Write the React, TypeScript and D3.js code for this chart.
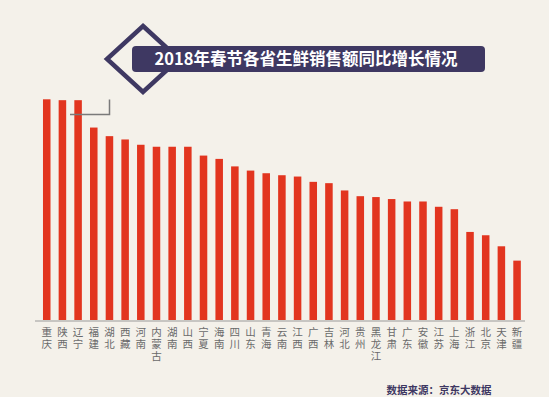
import * as d3 from 'd3';
import { useEffect, useRef } from 'react';

const provinces = [
    '重庆', '陕西', '辽宁', '福建', '湖北', '西藏', '河南', '内蒙古', '湖南', '山西', '宁夏',
    '海南', '四川', '山东', '青海', '云南', '江西', '广西', '吉林', '河北', '贵州', '黑龙江',
    '甘肃', '广东', '安徽', '江苏', '上海', '浙江', '北京', '天津', '新疆'
];

// growth values (no axis in the source)
const growth = [
    100, 99.6, 99.6, 87.2, 83.3, 81.8, 79.4, 78.5, 78.5, 78.5, 74.5,
    73.0, 69.6, 67.7, 66.5, 65.6, 65.0, 62.6, 62.0, 58.7, 56.1, 55.7,
    54.8, 53.7, 53.7, 51.3, 50.2, 39.9, 38.4, 33.4, 26.9
];

const titleText = '2018年春节各省生鲜销售额同比增长情况';
const sourceText = '数据来源：京东大数据';

export default function App() {

    const ref = useRef<HTMLDivElement>(null);

    useEffect(() => {
        document.body.style.margin = '0';

        const width = 549;
        const height = 397;
        const baseY = 320;
        const navy = '#3e3862';
        const barColor = '#e2351f';
        const font = '"Noto Sans CJK SC", "Noto Sans", sans-serif';

        const svg = d3
            .create('svg')
            .attr('width', width)
            .attr('height', height)
            .style('display', 'block');

        svg.append('rect')
            .attr('width', width)
            .attr('height', height)
            .attr('fill', '#f4f1ea');

        const xScale = d3
            .scaleBand()
            .domain(provinces)
            .range([38.9, 524.9])
            .paddingInner(0.52)
            .paddingOuter(0.26);

        const yScale = d3
            .scaleLinear()
            .domain([0, 100])
            .range([baseY, 99.3]);

        // baseline
        svg.append('line')
            .attr('x1', 35)
            .attr('x2', 525)
            .attr('y1', baseY + 1)
            .attr('y2', baseY + 1)
            .attr('stroke', '#9a9a9a')
            .attr('stroke-width', 1);

        svg.append('g')
            .selectAll('rect')
            .data(provinces)
            .join('rect')
            .attr('x', d => xScale(d)!)
            .attr('y', (d, i) => yScale(growth[i]))
            .attr('width', xScale.bandwidth())
            .attr('height', (d, i) => baseY - yScale(growth[i]))
            .attr('fill', barColor);

        // vertical labels (top-to-bottom writing mode)
        svg.append('g')
            .selectAll('text')
            .data(provinces)
            .join('text')
            .attr('font-family', font)
            .attr('font-size', 10.5)
            .attr('fill', '#6a6a6a')
            .attr('text-anchor', 'start')
            .style('writing-mode', 'vertical-rl')
            .style('text-orientation', 'upright')
            .attr('letter-spacing', 1.5)
            .attr('x', d => xScale(d)! + xScale.bandwidth() / 2)
            .attr('y', 327)
            .text(d => d);

        // little bracket next to the top bars
        svg.append('path')
            .attr('d', 'M70,114.5 H109.5 V99.5')
            .attr('fill', 'none')
            .attr('stroke', '#7a7a7a')
            .attr('stroke-width', 1.5);

        // title: diamond + box
        svg.append('path')
            .attr('d', 'M143,26 L179,59 L143,92 L107,59 Z')
            .attr('fill', 'none')
            .attr('stroke', navy)
            .attr('stroke-width', 4.5);

        svg.append('rect')
            .attr('x', 132)
            .attr('y', 46)
            .attr('width', 353)
            .attr('height', 26)
            .attr('rx', 4)
            .attr('fill', navy);

        svg.append('text')
            .attr('x', 306)
            .attr('y', 65)
            .attr('text-anchor', 'middle')
            .attr('font-family', font)
            .attr('font-size', 16.5)
            .attr('font-weight', 700)
            .attr('fill', '#ffffff')
            .text(titleText);

        svg.append('text')
            .attr('x', 439)
            .attr('y', 394)
            .attr('text-anchor', 'middle')
            .attr('font-family', font)
            .attr('font-size', 10.5)
            .attr('font-weight', 700)
            .attr('fill', navy)
            .text(sourceText);

        ref.current!.innerHTML = '';
        ref.current!.append(svg.node()!);
    }, []);

    return (
        <div ref={ref}></div>
    );
}
